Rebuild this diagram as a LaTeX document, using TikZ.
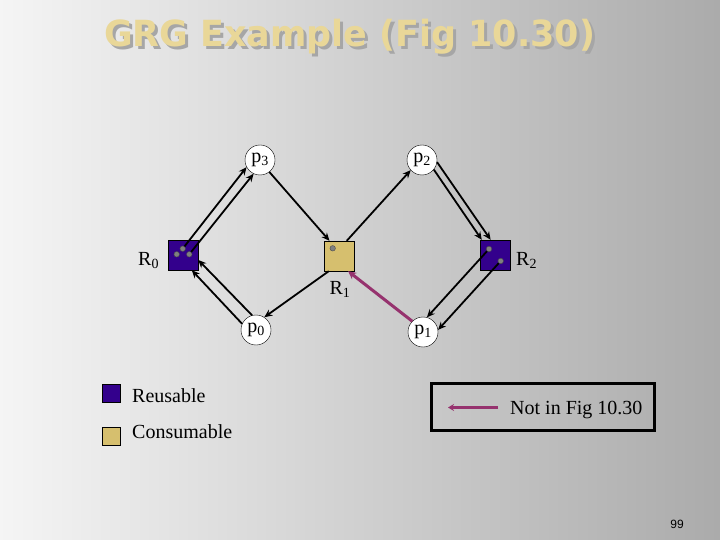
\documentclass[tikz,border=0pt]{standalone}
\usepackage{tikz}
\usepackage{xcolor}
\usepackage{fontspec}
\setmainfont{Liberation Serif}
\newfontfamily\titlefont{DejaVu Sans}
\newfontfamily\pagefont{Liberation Sans}
\usetikzlibrary{arrows.meta}

\definecolor{reusable}{RGB}{51,0,140}
\definecolor{consumable}{RGB}{214,191,110}
\definecolor{titletan}{RGB}{233,215,152}
\definecolor{notfig}{RGB}{150,50,110}

\begin{document}
\begin{tikzpicture}[x=1pt,y=-1pt,
  proc/.style={circle,draw=black,fill=white,minimum size=30pt,inner sep=0pt,font=\fontsize{20}{20}\selectfont},
  res/.style={draw=black,minimum size=30pt,inner sep=0pt},
  unit/.style={circle,draw=black!70,fill=gray,inner sep=0pt,minimum size=5.5pt},
  grg/.style={line width=1.8pt,-{Stealth[length=8pt,width=7pt]}},
  lbl/.style={font=\fontsize{20}{20}\selectfont}]
  % Background of the slide
  \useasboundingbox (0,0) rectangle (720,540);
  \shade[left color=black!4, right color=black!33] (0,0) rectangle (720,540);

  % Title with its shadow
  \node[anchor=base west,inner sep=0pt,text=black!35,font=\titlefont\bfseries\fontsize{36}{36}\selectfont] (shadow) at (107,50) {\scalebox{0.97}[1]{GRG Example (Fig 10.30)}};
  \node[anchor=base west,inner sep=0pt,text=titletan,font=\titlefont\bfseries\fontsize{36}{36}\selectfont] (title) at (104,47) {\scalebox{0.97}[1]{GRG Example (Fig 10.30)}};

  % Processes
  \node[proc] (p3) at (260,160) {p\textsubscript{3}};
  \node[proc] (p2) at (422,160) {p\textsubscript{2}};
  \node[proc] (p0) at (256,330) {p\textsubscript{0}};
  \node[proc] (p1) at (423,332) {p\textsubscript{1}};

  % Resources
  \node[res,fill=reusable] (R0) at (183,255) {};
  \node[res,fill=consumable] (R1) at (339,256) {};
  \node[res,fill=reusable] (R2) at (495,255) {};

  % Units inside the resources
  \node[unit] (r0a) at (176.7,254.3) {};
  \node[unit] (r0b) at (182.7,248.7) {};
  \node[unit] (r0c) at (189.3,254.3) {};
  \node[unit] (r1a) at (332.7,248.3) {};
  \node[unit] (r2a) at (489,249) {};
  \node[unit] (r2b) at (500.7,261) {};

  % Resource labels
  \node[lbl,anchor=base west,inner sep=0pt] (lr0) at (138,265) {R\textsubscript{0}};
  \node[lbl,anchor=base,inner sep=0pt] (lr1) at (340,294) {R\textsubscript{1}};
  \node[lbl,anchor=base west,inner sep=0pt] (lr2) at (516,265) {R\textsubscript{2}};

  % Edges
  \draw[grg] (r0b) -- (p3.208);
  \draw[grg] (r0c) -- (p3.245);
  \draw[grg] (p0.105) -- (R0.-18);
  \draw[grg] (p0.156) -- (R0.-60);
  \draw[grg] (p3.-52) -- (R1.122);
  \draw[grg] (R1.236) -- (p0.57);
  \draw[grg] (R1.63) -- (p2.222);
  \draw[grg] (p2.-39) -- (R2.131);
  \draw[grg] (p2.-8) -- (R2.106);
  \draw[grg] (r2a) -- (p1.75);
  \draw[grg] (r2b) -- (p1.8);
  \draw[notfig,line width=3pt,-{Stealth[length=8pt,width=8pt]}] (p1.135) -- (R1.-59);

  % Legend
  \node[draw=black,fill=reusable,minimum size=18pt,inner sep=0pt] (keyR) at (111,393) {};
  \node[draw=black,fill=consumable,minimum size=18pt,inner sep=0pt] (keyC) at (111,436) {};
  \node[lbl,anchor=base west,inner sep=0pt] (txtR) at (132,402) {Reusable};
  \node[lbl,anchor=base west,inner sep=0pt] (txtC) at (132,438) {Consumable};

  \node[draw=black,line width=2.5pt,minimum width=223pt,minimum height=47pt] (box) at (543,407) {};
  \coordinate (a1) at (498,407.5);
  \coordinate (a2) at (448,407.5);
  \draw[notfig,line width=3pt,-{Stealth[length=6pt,width=7pt]}] (a1) -- (a2);
  \node[lbl,anchor=base west,inner sep=0pt] (txtN) at (510,414) {Not in Fig 10.30};

  % Page number
  \node[anchor=base,inner sep=0pt,font=\pagefont\fontsize{12}{12}\selectfont] (num) at (677,528) {99};
\end{tikzpicture}
\end{document}
